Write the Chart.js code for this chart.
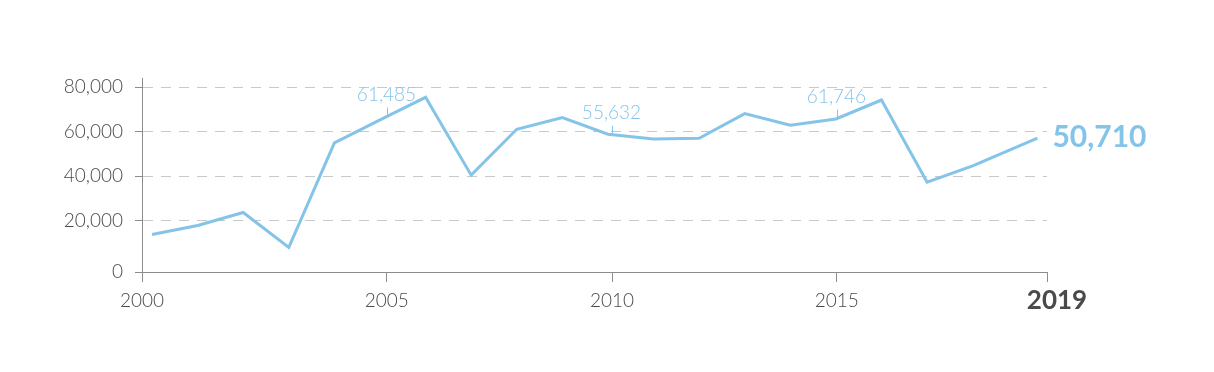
<!DOCTYPE html>
<html>
<head>
<meta charset="utf-8">
<script src="https://cdn.jsdelivr.net/npm/chart.js@4.4.1/dist/chart.umd.min.js"></script>
<style>
  body { margin: 0; background: #fff; }
  #wrap { width: 1214px; height: 372px; position: relative; }
</style>
</head>
<body>
<div id="wrap"><canvas id="myChart"></canvas></div>
<script>
// years of the points (the last one sits a bit short of the axis end)
const years = [2000, 2001, 2002, 2003, 2004, 2005, 2006, 2007, 2008, 2009,
               2010, 2011, 2012, 2013, 2014, 2015, 2016, 2017, 2018, 2019.42];
const values = [13700, 17750, 23600, 7860, 54950, 65300, 75500, 40420, 61110, 66330,
                58860, 56750, 57060, 68130, 62910, 65740, 74290, 37270, 44600, 57060];

// x axis: first/last tick are the axis ends
const xMin = 1999.78;
const xMax = 2019.63;
const xTickPos = [1999.78, 2005.15, 2010.09, 2015.02, 2019.63];
const xTickLabels = ['2000', '2005', '2010', '2015', ''];
const lastYearLabel = '2019';

// y axis: the "0" label is drawn at the axis floor
const yMin = -3200;
const yMax = 84200;
const yTickPos = [-3200, 20000, 40000, 60000, 80000];
const yTickLabels = ['0', '20,000', '40,000', '60,000', '80,000'];

// callouts above the line
const calloutX = [2005.15, 2010.09, 2015.02];
const calloutText = ['61,485', '55,632', '61,746'];
const endLabel = '50,710';

const blue = '#84c4e8';
const axisGray = '#8c8c8c';
const textGray = '#4a4a4a';
const fontName = 'Lato, "Open Sans", sans-serif';

function valueAt(x) {
    for (let i = 0; i < years.length - 1; i++) {
        if (x >= years[i] && x <= years[i + 1]) {
            let t = (x - years[i]) / (years[i + 1] - years[i]);
            return values[i] + t * (values[i + 1] - values[i]);
        }
    }
    return values[values.length - 1];
}

const labelsPlugin = {
    id: 'labels',
    afterDatasetsDraw(chart) {
        const c = chart.ctx;
        const xs = chart.scales.x;
        const ys = chart.scales.y;
        c.save();
        // callouts
        c.font = '300 19px ' + fontName;
        c.fillStyle = blue;
        c.strokeStyle = blue;
        c.lineWidth = 1;
        c.textAlign = 'center';
        c.textBaseline = 'middle';
        calloutX.forEach((x, i) => {
            let px = Math.round(xs.getPixelForValue(x)) + 0.5;
            let py = ys.getPixelForValue(valueAt(x));
            c.beginPath();
            c.moveTo(px, py - 9);
            c.lineTo(px, py - 1);
            c.stroke();
            c.fillText(calloutText[i], px - 1, py - 21.5);
        });
        // value at the end of the line
        let lx = xs.getPixelForValue(years[years.length - 1]);
        let ly = ys.getPixelForValue(values[values.length - 1]);
        c.font = 'bold 30px ' + fontName;
        c.textAlign = 'left';
        c.fillText(endLabel, lx + 15, ly - 1);
        // last year under the axis end
        c.font = 'bold 26px ' + fontName;
        c.fillStyle = textGray;
        c.textAlign = 'center';
        c.fillText(lastYearLabel, xs.right + 10, xs.top + 29);
        c.restore();
    }
};

const ctx = document.getElementById('myChart');
const chart = new Chart(ctx, {
    type: 'line',
    data: {
        datasets: [{
            data: years.map((y, i) => ({ x: y, y: values[i] })),
            borderColor: blue,
            borderWidth: 3,
            pointRadius: 0,
            tension: 0,
            fill: false
        }]
    },
    options: {
        responsive: true,
        maintainAspectRatio: false,
        animation: false,
        layout: { padding: { top: 78, right: 167, left: 0, bottom: 0 } },
        plugins: {
            legend: { display: false },
            tooltip: { enabled: false }
        },
        scales: {
            x: {
                type: 'linear',
                min: xMin,
                max: xMax,
                afterBuildTicks: scale => {
                    scale.ticks = xTickPos.map(v => ({ value: v }));
                },
                afterFit: scale => { scale.height = 100; },
                ticks: {
                    autoSkip: false,
                    maxRotation: 0,
                    padding: 7,
                    color: textGray,
                    font: { family: fontName, size: 19, weight: '300' },
                    callback: (v, i) => xTickLabels[i]
                },
                grid: {
                    drawOnChartArea: false,
                    drawTicks: true,
                    tickLength: 10,
                    tickColor: axisGray,
                    tickWidth: 1
                },
                border: { color: axisGray, width: 1 }
            },
            y: {
                min: yMin,
                max: yMax,
                afterBuildTicks: scale => {
                    scale.ticks = yTickPos.map(v => ({ value: v }));
                },
                afterFit: scale => { scale.width = 142; },
                ticks: {
                    padding: 12,
                    color: textGray,
                    font: { family: fontName, size: 19, weight: '300' },
                    callback: (v, i) => yTickLabels[i]
                },
                grid: {
                    color: c => c.index === 0 ? 'rgba(0,0,0,0)' : '#c8c8c8',
                    lineWidth: 1,
                    drawTicks: true,
                    tickLength: 7,
                    tickColor: axisGray,
                    tickBorderDash: []
                },
                border: { color: axisGray, width: 1, dash: [10, 8] }
            }
        }
    },
    plugins: [labelsPlugin]
});
</script>
</body>
</html>
